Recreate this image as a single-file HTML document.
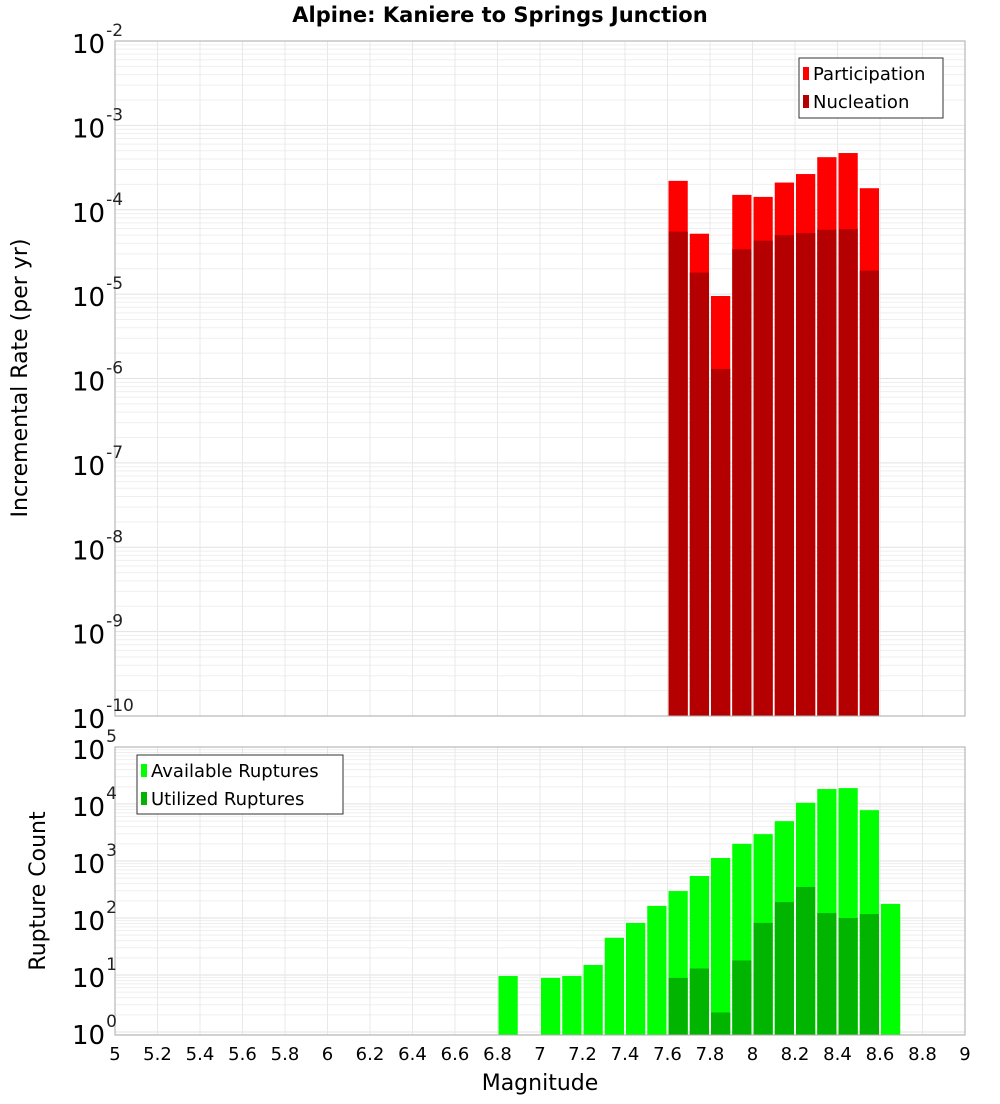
<!DOCTYPE html>
<html><head><meta charset="utf-8"><style>
body{margin:0;background:#fff;font-family:"DejaVu Sans","Liberation Sans",sans-serif;}
</style></head><body>
<svg id="c" width="1000" height="1100" xmlns="http://www.w3.org/2000/svg"></svg>
<script>
const bins = [7.6,7.7,7.8,7.9,8.0,8.1,8.2,8.3,8.4,8.5];
const participation = [2.2e-4,5.2e-5,9.5e-6,1.5e-4,1.42e-4,2.1e-4,2.65e-4,4.2e-4,4.7e-4,1.8e-4];
const nucleation = [5.5e-5,1.8e-5,1.3e-6,3.4e-5,4.3e-5,5.0e-5,5.3e-5,5.8e-5,5.9e-5,1.9e-5];
const countBins = [6.8,7.0,7.1,7.2,7.3,7.4,7.5,7.6,7.7,7.8,7.9,8.0,8.1,8.2,8.3,8.4,8.5,8.6];
const available = [9.6,8.9,9.6,15,45,82,163,297,545,1130,2000,2960,5000,10500,18300,19000,7800,177];
const utilBins = [7.6,7.7,7.8,7.9,8.0,8.1,8.2,8.3,8.4,8.5];
const utilized = [8.9,13,2.2,18,82,190,350,122,100,117];
const xTicks = ["5","5.2","5.4","5.6","5.8","6","6.2","6.4","6.6","6.8","7","7.2","7.4","7.6","7.8","8","8.2","8.4","8.6","8.8","9"];

const svg=document.getElementById('c'), NS='http://www.w3.org/2000/svg';
function el(t,a,p){const e=document.createElementNS(NS,t);for(const k in a)e.setAttribute(k,a[k]);(p||svg).appendChild(e);return e;}
const X0=115,X1=965;
const x=m=>X0+(m-5)/4*(X1-X0);
const T={top:41,bot:716,lo:-10,hi:-2};
const B={top:747,bot:1035,lo:Math.log10(0.886),hi:5};
const y=(P,v)=>P.bot-(Math.log10(v)-P.lo)/(P.hi-P.lo)*(P.bot-P.top);

function grid(P,name){
  const g=el('g',{});  
  for(let e=Math.floor(P.lo);e<P.hi;e++)for(let k=1;k<10;k++){const v=k*Math.pow(10,e);if(Math.log10(v)<P.lo||Math.log10(v)>P.hi)continue;
    el('line',{x1:X0,x2:X1,y1:y(P,v),y2:y(P,v),stroke:k==1?'#e2e2e2':'#efefef','stroke-width':1},g);}
  for(let i=0;i<=20;i++){const xx=x(5+i*0.2);el('line',{x1:xx,x2:xx,y1:P.top,y2:P.bot,stroke:'#e8e8e8'},g);}
}
function frame(P,name){const r=el('rect',{x:X0,y:P.top,width:X1-X0,height:P.bot-P.top,fill:'none',stroke:'#aaa'});}
function bars(P,bs,vals,col,name){
  bs.forEach((m,i)=>{const yy=y(P,vals[i]);const r=el('rect',{x:x(m)+1,y:yy,width:x(m+0.1)-x(m)-2,height:P.bot-yy,fill:col});
    });
}
function ylabels(P,from,to,name){
  for(let e=from;e<=to;e++){const yy=y(P,Math.pow(10,e));const t=el('text',{x:72,y:yy+12,'font-size':26,fill:'#000'});
    
    t.textContent='10';const s=el('tspan',{dy:-17,'font-size':17,fill:'#222',dx:1},t);s.textContent=String(e);}
}
// top
grid(T,'top');
bars(T,bins,participation,'#ff0000','participation');
bars(T,bins,nucleation,'#b40000','nucleation');
frame(T,'top');
ylabels(T,-10,-2,'top-y');
// bottom
grid(B,'bottom');
bars(B,countBins,available,'#00ff00','available');
bars(B,utilBins,utilized,'#00b400','utilized');
frame(B,'bottom');
ylabels(B,0,5,'bottom-y');
xTicks.forEach(s=>{const t=el('text',{x:x(+s),y:1060,'font-size':18,'text-anchor':'middle'});t.textContent=s;
  });
function txt(s,a,name){const t=el('text',a);t.textContent=s;return t;}
txt('Alpine: Kaniere to Springs Junction',{x:500,y:22,'font-size':21,'font-weight':'bold','text-anchor':'middle'},'chart-title');
txt('Magnitude',{x:540,y:1090,'font-size':22,'text-anchor':'middle'},'x-axis-title');
txt('Incremental Rate (per yr)',{x:0,y:0,'font-size':22,'text-anchor':'middle',transform:'translate(27,378) rotate(-90)'},'top-y-axis-title');
txt('Rupture Count',{x:0,y:0,'font-size':22,'text-anchor':'middle',transform:'translate(45,891) rotate(-90)'},'bottom-y-axis-title');
function legend(x0,y0,w,h,items,name){
  const g=el('g',{});
  el('rect',{x:x0,y:y0,width:w,height:h,fill:'#fff',stroke:'#333'},g);
  items.forEach((it,i)=>{el('rect',{x:x0+4,y:y0+9+i*28,width:6,height:13,fill:it[1]},g);
    const t=el('text',{x:x0+14,y:y0+22+i*28,'font-size':18},g);t.textContent=it[0];});
}
legend(799,58,144,60,[['Participation','#ff0000'],['Nucleation','#b40000']],'top-legend');
legend(137,755,206,59,[['Available Ruptures','#00ff00'],['Utilized Ruptures','#00b400']],'bottom-legend');
</script>
</body></html>
